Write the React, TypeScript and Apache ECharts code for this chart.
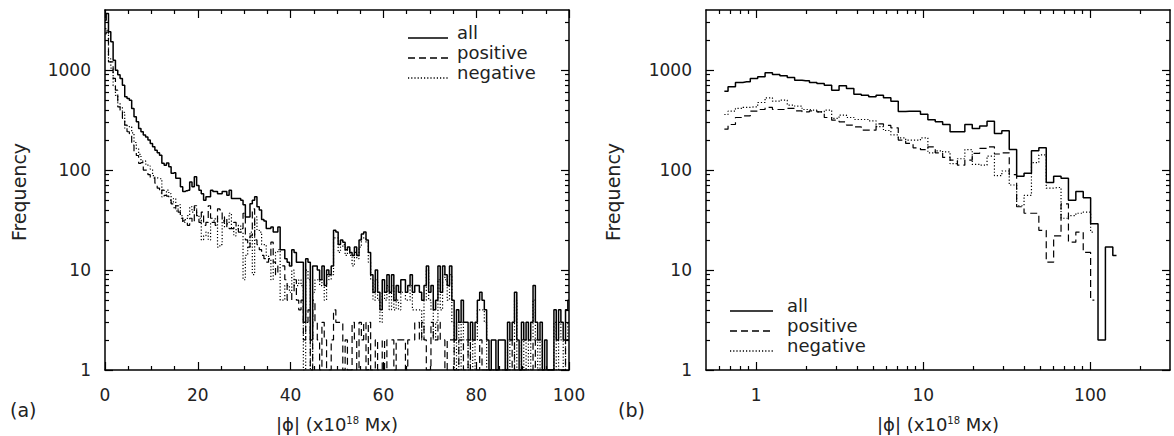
import React, { useEffect, useRef } from "react";
import * as echarts from "echarts";

// ---------- Panel (a): linear |phi| bins of 0.5 (x10^18 Mx), starting at 0 ----------
const LEFT_BIN_START = 0;
const LEFT_BIN_WIDTH = 0.5;

const leftAll = [
  3160, 3690, 2420, 1920, 1260, 1000, 900, 826, 708, 541,
  521, 501, 414, 341, 304, 261, 242, 224, 215, 200,
  185, 171, 158, 149, 141, 117, 112, 118, 108, 93,
  94, 83, 83, 68, 61, 62, 63, 76, 68, 86,
  70, 63, 58, 50, 54, 54, 63, 61, 61, 58,
  58, 61, 61, 56, 63, 52, 52, 52, 52, 50,
  45, 34, 34, 46, 50, 54, 43, 40, 32, 31,
  26, 26, 27, 24, 24, 27, 16, 16, 13, 12,
  11, 16, 15, 12, 12, 12, 3, 13, 12, 2,
  11, 11, 10, 8, 11, 7, 10, 9, 11, 25,
  24, 18, 20, 19, 16, 17, 15, 14, 17, 14,
  20, 23, 24, 20, 15, 9, 6, 10, 6, 4,
  8, 6, 9, 6, 9, 5, 7, 6, 8, 8,
  6, 7, 9, 6, 7, 7, 6, 5, 7, 11,
  6, 7, 4, 5, 11, 6, 11, 9, 7, 11,
  5, 2, 4, 3, 5, 3, 3, 2, 3, 2,
  3, 5, 6, 5, 4, 2, 1, 2, 2, 1,
  2, 2, 2, 1, 3, 2, 3, 6, 2, 1,
  3, 2, 3, 2, 3, 7, 3, 2, 3, 1,
  2, 1, 1, 1, 4, 2, 4, 3, 2, 4,
  5,
];

const leftPositive = [
  2300, 2400, 1210, 1210, 826, 631, 430, 398, 330, 282,
  242, 230, 178, 152, 140, 117, 119, 100, 100, 90,
  83, 83, 74, 66, 59, 63, 56, 55, 50, 46,
  42, 44, 38, 33, 31, 30, 28, 33, 30, 44,
  35, 30, 38, 28, 30, 44, 33, 30, 28, 41,
  40, 30, 34, 27, 26, 26, 30, 26, 24, 26,
  37, 20, 17, 22, 41, 20, 18, 16, 14, 13,
  12, 13, 19, 12, 9, 11, 11, 11, 8, 5,
  5, 6, 8, 5, 4, 5, 2, 3, 4, 1,
  5, 3, 2, 1, 3, 2, 1, 1, 2, 4,
  3, 3, 3, 1, 2, 1, 1, 3, 2, 1,
  3, 2, 3, 1, 3, 1, 1, 2, 1, 1,
  2, 1, 2, 2, 2, 1, 2, 2, 2, 2,
  1, 2, 2, 2, 3, 3, 2, 3, 2, 1,
  1, 3, 2, 2, 3, 2, 2, 1, 2, 2,
  2, 1, 1, 2, 2, 1, 1, 2, 1, 1,
  1, 1, 2, 1, 1, 1, 1, 1, 1, 1,
  1, 1, 1, 1, 1, 1, 2, 1, 1, 1,
  1, 1, 1, 1, 1, 2, 1, 1, 1, 1,
  1, 1, 1, 1, 1, 1, 1, 1, 1, 2,
  2,
];

const leftNegative = [
  2600, 2500, 1300, 1050, 700, 560, 470, 428, 378, 259,
  279, 271, 236, 189, 164, 144, 123, 124, 115, 110,
  102, 88, 84, 83, 82, 54, 56, 63, 58, 47,
  52, 39, 45, 35, 30, 32, 35, 43, 38, 42,
  35, 33, 20, 22, 24, 20, 30, 31, 33, 17,
  18, 31, 27, 29, 37, 26, 22, 26, 28, 24,
  8, 14, 17, 24, 9, 34, 25, 24, 18, 18,
  14, 13, 8, 12, 15, 16, 5, 5, 7, 7,
  6, 10, 7, 7, 8, 7, 1, 10, 8, 1,
  6, 8, 8, 7, 8, 5, 9, 8, 9, 21,
  21, 15, 17, 18, 14, 16, 14, 11, 15, 13,
  17, 21, 21, 19, 12, 8, 5, 8, 5, 3,
  6, 5, 7, 4, 7, 4, 5, 4, 6, 6,
  5, 5, 7, 4, 4, 4, 4, 2, 5, 10,
  5, 4, 2, 3, 8, 4, 9, 8, 5, 9,
  3, 1, 3, 1, 3, 2, 2, 1, 2, 1,
  2, 4, 4, 4, 3, 1, 1, 1, 1, 1,
  1, 1, 1, 1, 2, 1, 1, 5, 1, 1,
  2, 1, 2, 1, 2, 5, 2, 1, 2, 1,
  1, 1, 1, 1, 3, 1, 3, 2, 1, 2,
  3,
];

// ---------- Panel (b): logarithmic |phi| bins (bin centres, x10^18 Mx) ----------
const rightBinCenters = [
  0.644, 0.713, 0.79, 0.875, 0.969, 1.073, 1.188, 1.315, 1.457, 1.613,
  1.786, 1.978, 2.191, 2.426, 2.687, 2.975, 3.295, 3.649, 4.041, 4.475,
  4.955, 5.488, 6.077, 6.73, 7.453, 8.254, 9.138, 10.12, 11.21, 12.41,
  13.74, 15.22, 16.85, 18.66, 20.67, 22.88, 25.34, 28.06, 31.08, 34.42,
  38.11, 42.21, 46.74, 51.76, 57.32, 63.47, 70.29, 77.84, 86.2, 95.43,
  105.7, 117.0, 129.6, 143.5,
];

const rightAll = [
  617, 681, 753, 764, 826, 858, 940, 906, 878, 845,
  794, 782, 753, 736, 708, 631, 697, 656, 575, 562,
  541, 562, 529, 490, 386, 388, 388, 362, 320, 305,
  286, 242, 242, 286, 261, 277, 309, 233, 247, 161,
  87, 93, 156, 167, 75, 87, 83, 50, 61, 53,
  29, 2, 17, 14,
];

const rightPositive = [
  257, 286, 336, 349, 389, 404, 424, 404, 404, 414,
  392, 383, 392, 383, 336, 316, 304, 282, 271, 251,
  251, 290, 280, 265, 200, 185, 167, 160, 171, 149,
  134, 126, 112, 126, 147, 165, 171, 145, 149, 90,
  43, 37, 37, 25, 12, 22, 46, 19, 24, 15,
  5,
];

const rightNegative = [
  360, 389, 414, 424, 430, 475, 529, 490, 501, 447,
  437, 404, 398, 383, 398, 329, 355, 336, 321, 321,
  311, 272, 249, 225, 210, 200, 200, 210, 149, 156,
  152, 116, 130, 160, 114, 112, 138, 88, 98, 71,
  44, 56, 119, 142, 66, 67, 33, 35, 37, 38,
  24,
];

// ---------- Axis ranges & ticks ----------
const yRange = { min: 1, max: 4000 };
const yMajorTicks = [1, 10, 100, 1000];
const yMinorTicks = [2, 3, 4, 5, 6, 7, 8, 9, 20, 30, 40, 50, 60, 70, 80, 90, 200, 300, 400, 500, 600, 700, 800, 900, 2000, 3000];
const yTickLabels = ["1", "10", "100", "1000"];

const leftXRange = { min: 0, max: 100 };
const leftXMajorTicks = [0, 20, 40, 60, 80, 100];
const leftXMinorTicks = [5, 10, 15, 25, 30, 35, 45, 50, 55, 65, 70, 75, 85, 90, 95];
const leftXTickLabels = ["0", "20", "40", "60", "80", "100"];

const rightXRange = { min: 0.5, max: 300 };
const rightXMajorTicks = [1, 10, 100];
const rightXMinorTicks = [0.6, 0.7, 0.8, 0.9, 2, 3, 4, 5, 6, 7, 8, 9, 20, 30, 40, 50, 60, 70, 80, 90, 200];
const rightXTickLabels = ["1", "10", "100"];

const seriesNames = ["all", "positive", "negative"];

const INK = "#000";
const TEXT = "#222";
const FONT = "'DejaVu Sans', 'Liberation Sans', sans-serif";
const DASH = [7, 4];
const DOT = [1.2, 2];

function labelFor(majors: number[], labels: string[]) {
  return (v: number) => {
    for (let i = 0; i < majors.length; i++) {
      if (Math.abs(v - majors[i]) <= majors[i] * 1e-6 + 1e-9) return labels[i];
    }
    return "";
  };
}

function buildAxes(
  dim: "x" | "y",
  gridIndex: number,
  type: "value" | "log",
  range: { min: number; max: number },
  major: number[],
  minor: number[],
  labels: string[],
  labelMargin: number
) {
  const sides = dim === "x" ? ["bottom", "top"] : ["left", "right"];
  const out: any[] = [];
  sides.forEach((position, si) => {
    [true, false].forEach((isMajor) => {
      out.push({
        type,
        ...(type === "log" ? { logBase: 10 } : {}),
        min: range.min,
        max: range.max,
        gridIndex,
        position,
        axisLine: { show: isMajor, onZero: false, lineStyle: { color: INK, width: 1.5 } },
        axisTick: {
          show: true,
          inside: true,
          length: isMajor ? 8 : 4,
          customValues: isMajor ? major : minor,
          lineStyle: { color: INK, width: 1.2 },
        },
        axisLabel: {
          show: isMajor && si === 0,
          customValues: major,
          margin: labelMargin,
          fontFamily: FONT,
          fontSize: 17,
          color: TEXT,
          formatter: labelFor(major, labels),
        },
        splitLine: { show: false },
        minorTick: { show: false },
        minorSplitLine: { show: false },
        axisPointer: { show: false },
      });
    });
  });
  return out;
}

function stepSeries(name: string, xIdx: number, yIdx: number, xs: number[], ys: number[], dash: any, width: number) {
  return {
    name,
    type: "line",
    xAxisIndex: xIdx,
    yAxisIndex: yIdx,
    step: "middle",
    symbol: "none",
    showSymbol: false,
    clip: true,
    silent: true,
    data: ys.map((v, i) => [xs[i], v]),
    lineStyle: { color: INK, width, type: dash },
  };
}

function legendBlock(x1: number, x2: number, textX: number, baselines: number[]) {
  const dashes: any[] = ["solid", DASH, DOT];
  const els: any[] = [];
  seriesNames.forEach((n, i) => {
    els.push({
      type: "line",
      shape: { x1, y1: baselines[i], x2, y2: baselines[i] },
      style: { stroke: INK, lineWidth: i === 0 ? 1.5 : 1.3, lineDash: dashes[i] === "solid" ? null : dashes[i] },
      silent: true,
    });
    els.push({
      type: "text",
      x: textX,
      y: baselines[i] - 6,
      style: { text: n, fontFamily: FONT, fontSize: 18, fill: TEXT, textAlign: "left", textVerticalAlign: "middle" },
      silent: true,
    });
  });
  return els;
}

function textEl(text: string, x: number, y: number, size: number, rotation = 0, align = "center") {
  return {
    type: "text",
    x,
    y,
    rotation,
    silent: true,
    style: {
      text,
      fontFamily: FONT,
      fontSize: size,
      fill: TEXT,
      textAlign: align,
      textVerticalAlign: "middle",
      rich: {
        sup: { fontFamily: FONT, fontSize: 10, fill: TEXT, verticalAlign: "top", lineHeight: 12 },
      },
    },
  };
}

export default function App() {
  const ref = useRef<HTMLDivElement>(null);

  useEffect(() => {
    if (!ref.current) return;
    const chart = echarts.init(ref.current, undefined, { renderer: "svg" });

    const leftXs = leftAll.map((_, i) => LEFT_BIN_START + i * LEFT_BIN_WIDTH);

    const xAxis = [
      ...buildAxes("x", 0, "value", leftXRange, leftXMajorTicks, leftXMinorTicks, leftXTickLabels, 16),
      ...buildAxes("x", 1, "log", rightXRange, rightXMajorTicks, rightXMinorTicks, rightXTickLabels, 16),
    ];
    const yAxis = [
      ...buildAxes("y", 0, "log", yRange, yMajorTicks, yMinorTicks, yTickLabels, 14),
      ...buildAxes("y", 1, "log", yRange, yMajorTicks, yMinorTicks, yTickLabels, 14),
    ];

    const option: any = {
      animation: false,
      backgroundColor: "#fff",
      grid: [
        { left: 105, top: 10, width: 464, height: 360, outerBoundsMode: "none", containLabel: false },
        { left: 706, top: 10, width: 464, height: 360, outerBoundsMode: "none", containLabel: false },
      ],
      xAxis,
      yAxis,
      series: [
        stepSeries("all", 0, 0, leftXs, leftAll, "solid", 1.5),
        stepSeries("positive", 0, 0, leftXs, leftPositive, DASH, 1.2),
        stepSeries("negative", 0, 0, leftXs, leftNegative, DOT, 1.2),
        stepSeries("all", 4, 4, rightBinCenters, rightAll, "solid", 1.5),
        stepSeries("positive", 4, 4, rightBinCenters, rightPositive, DASH, 1.2),
        stepSeries("negative", 4, 4, rightBinCenters, rightNegative, DOT, 1.2),
      ],
      graphic: [
        ...legendBlock(408, 448, 457, [38, 58, 78]),
        ...legendBlock(730, 773, 787, [311, 331, 351]),
        textEl("Frequency", 19, 192, 19, Math.PI / 2),
        textEl("Frequency", 613, 192, 19, Math.PI / 2),
        textEl("(a)", 10, 410, 19, 0, "left"),
        textEl("(b)", 618, 410, 19, 0, "left"),
        textEl("|ϕ| (x10{sup|18} Mx)", 337, 424, 18),
        textEl("|ϕ| (x10{sup|18} Mx)", 938, 424, 18),
      ],
    };

    chart.setOption(option);
    return () => chart.dispose();
  }, []);

  return (
    <div
      ref={ref}
      style={{ position: "fixed", left: 0, top: 0, width: 1174, height: 436, background: "#fff" }}
    />
  );
}
